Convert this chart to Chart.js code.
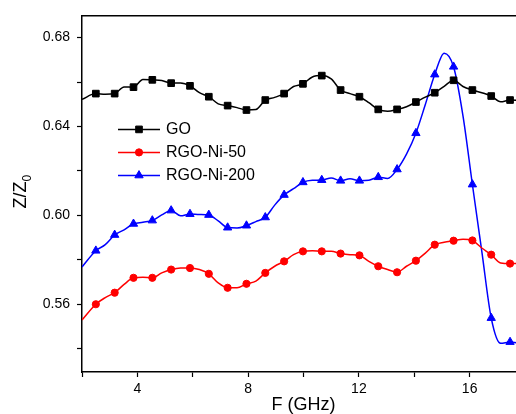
<!DOCTYPE html>
<html>
<head>
<meta charset="utf-8">
<script src="https://cdn.jsdelivr.net/npm/chart.js@4.4.1/dist/chart.umd.min.js"></script>
<style>
  html, body { margin: 0; padding: 0; background: #fff; overflow: hidden; }
  #wrap { width: 516px; height: 414px; overflow: hidden; }
</style>
</head>
<body>
<div id="wrap"><canvas id="zChart" width="530" height="414"></canvas></div>
<script>
// Frequency samples in GHz; odd entries are the ones that carry a marker
const freq = [2.00, 2.50, 2.84, 3.18, 3.52, 3.86, 4.20, 4.54, 4.88, 5.22, 5.56, 5.90, 6.24, 6.58, 6.92, 7.26,
  7.60, 7.94, 8.28, 8.62, 8.96, 9.30, 9.64, 9.98, 10.32, 10.66, 11.00, 11.34, 11.68, 12.02, 12.36, 12.70,
  13.04, 13.38, 13.72, 14.06, 14.40, 14.74, 15.08, 15.42, 15.76, 16.10, 16.44, 16.78, 17.12, 17.46, 17.80];

const goVals = [0.6522, 0.6548, 0.6545, 0.6548, 0.6578, 0.6577, 0.6612, 0.6610, 0.6607, 0.6595, 0.6596, 0.6583,
  0.6552, 0.6534, 0.6502, 0.6494, 0.6485, 0.6474, 0.6476, 0.6519, 0.6531, 0.6548, 0.6580, 0.6592, 0.6623,
  0.6629, 0.6614, 0.6564, 0.6548, 0.6534, 0.6507, 0.6477, 0.6469, 0.6477, 0.6489, 0.6510, 0.6532, 0.6552,
  0.6581, 0.6608, 0.6580, 0.6564, 0.6552, 0.6537, 0.6511, 0.6519, 0.6517];

const ni50Vals = [0.5529, 0.5600, 0.5630, 0.5652, 0.5689, 0.5719, 0.5722, 0.5719, 0.5741, 0.5756, 0.5763, 0.5763,
  0.5756, 0.5737, 0.5696, 0.5674, 0.5674, 0.5692, 0.5704, 0.5741, 0.5771, 0.5793, 0.5823, 0.5838, 0.5841,
  0.5838, 0.5838, 0.5828, 0.5823, 0.5820, 0.5793, 0.5771, 0.5756, 0.5744, 0.5771, 0.5796, 0.5830, 0.5868,
  0.5879, 0.5886, 0.5893, 0.5887, 0.5853, 0.5823, 0.5786, 0.5783, 0.5783];

const ni200Vals = [0.5768, 0.5841, 0.5868, 0.5912, 0.5935, 0.5962, 0.5969, 0.5977, 0.6002, 0.6022, 0.5998, 0.6006,
  0.6004, 0.6002, 0.5975, 0.5945, 0.5943, 0.5954, 0.5972, 0.5991, 0.6046, 0.6092, 0.6120, 0.6149, 0.6158,
  0.6159, 0.6168, 0.6156, 0.6165, 0.6156, 0.6158, 0.6172, 0.6166, 0.6207, 0.6276, 0.6370, 0.6499, 0.6634,
  0.6730, 0.6669, 0.6448, 0.6139, 0.5838, 0.5538, 0.5424, 0.5430, 0.5424];

const seriesNames = ['GO', 'RGO-Ni-50', 'RGO-Ni-200'];

const xTicks = [2, 4, 6, 8, 10, 12, 14, 16, 18];
const xLabels = [4, 8, 12, 16];
const yTicks = [0.54, 0.56, 0.58, 0.60, 0.62, 0.64, 0.66, 0.68];
const yLabels = [0.56, 0.60, 0.64, 0.68];

const FONT = '"Liberation Sans", Arial, sans-serif';
Chart.defaults.font.family = FONT;
Chart.defaults.color = '#000';

function toPoints(vals) {
    return freq.map((f, i) => ({ x: f, y: vals[i] }));
}

function makeSeries(label, vals, color, style, radius) {
    return {
        label: label,
        data: toPoints(vals),
        borderColor: color,
        backgroundColor: color,
        borderWidth: 1.5,
        cubicInterpolationMode: 'monotone',
        pointStyle: style,
        pointRadius: c => (c.index % 2 === 1 ? radius : 0),
        pointHoverRadius: c => (c.index % 2 === 1 ? radius : 0),
        pointBackgroundColor: color,
        pointBorderColor: color,
        pointBorderWidth: 1,
        markerRadius: radius
    };
}

const isMajor = (list, v) => list.some(l => Math.abs(l - v) < 1e-6);

// Axis title with subscript and an in-plot legend (line + marker + name)
const plotExtras = {
    id: 'plotExtras',
    afterDraw(chart) {
        const { ctx, chartArea } = chart;

        ctx.save();
        ctx.translate(21, (chartArea.top + chartArea.bottom) / 2 - 2);
        ctx.rotate(-Math.PI / 2);
        ctx.fillStyle = '#000';
        ctx.textBaseline = 'middle';
        ctx.textAlign = 'left';
        ctx.font = '18px ' + FONT;
        const mainW = ctx.measureText('Z/Z').width;
        ctx.font = '12px ' + FONT;
        const subW = ctx.measureText('0').width;
        const start = -(mainW + subW) / 2;
        ctx.font = '18px ' + FONT;
        ctx.fillText('Z/Z', start, 0);
        ctx.font = '12px ' + FONT;
        ctx.fillText('0', start + mainW, 7);
        ctx.restore();

        ctx.save();
        chart.data.datasets.forEach((ds, i) => {
            const y = chartArea.top + 114 + i * 23;
            const x0 = chartArea.left + 36;
            ctx.strokeStyle = ds.borderColor;
            ctx.fillStyle = ds.borderColor;
            ctx.lineWidth = 1.5;
            ctx.beginPath();
            ctx.moveTo(x0, y);
            ctx.lineTo(x0 + 42, y);
            ctx.stroke();
            ctx.lineWidth = 1;
            Chart.helpers.drawPoint(ctx, { pointStyle: ds.pointStyle, radius: ds.markerRadius, rotation: 0, borderWidth: 1 }, x0 + 21, y);
            ctx.fillStyle = '#000';
            ctx.font = '16px ' + FONT;
            ctx.textBaseline = 'middle';
            ctx.textAlign = 'left';
            ctx.fillText(ds.label, x0 + 48, y);
        });
        ctx.restore();
    }
};

new Chart(document.getElementById('zChart'), {
    type: 'line',
    data: {
        datasets: [
            makeSeries(seriesNames[0], goVals, '#000000', 'rect', 4.7),
            makeSeries(seriesNames[1], ni50Vals, '#ff0000', 'circle', 3.6),
            makeSeries(seriesNames[2], ni200Vals, '#0000ff', 'triangle', 4.8)
        ]
    },
    options: {
        responsive: false,
        animation: false,
        layout: { padding: { left: 0, top: 12, right: 5, bottom: 0 } },
        plugins: { legend: { display: false }, tooltip: { enabled: false } },
        scales: {
            x: {
                type: 'linear',
                min: 2,
                max: 18,
                afterBuildTicks: s => { s.ticks = xTicks.map(v => ({ value: v })); },
                afterFit: s => { s.height = 42; },
                grid: { display: true, drawOnChartArea: false, tickLength: 5, color: '#000', tickColor: '#000', tickWidth: 1.2 },
                border: { display: true, color: '#000', width: 1.5 },
                ticks: {
                    padding: 4,
                    color: '#000',
                    font: { size: 14 },
                    maxRotation: 0,
                    autoSkip: false,
                    callback: v => (isMajor(xLabels, v) ? String(v) : '')
                },
                title: { display: true, text: 'F (GHz)', color: '#000', font: { size: 18, lineHeight: 1.0 }, padding: 0 }
            },
            x2: {
                type: 'linear',
                position: 'top',
                min: 2,
                max: 18,
                afterFit: s => { s.height = 0; },
                grid: { display: false, drawTicks: false },
                border: { display: true, color: '#000', width: 1.5 },
                ticks: { display: false }
            },
            y: {
                type: 'linear',
                min: 0.5295,
                max: 0.69,
                afterBuildTicks: s => { s.ticks = yTicks.map(v => ({ value: v })); },
                afterFit: s => { s.width = 82; },
                grid: { display: true, drawOnChartArea: false, tickLength: 5, color: '#000', tickColor: '#000', tickWidth: 1.2 },
                border: { display: true, color: '#000', width: 1.5 },
                ticks: {
                    padding: 7,
                    color: '#000',
                    font: { size: 14 },
                    autoSkip: false,
                    callback: v => (isMajor(yLabels, v) ? v.toFixed(2) : '')
                }
            }
        }
    },
    plugins: [plotExtras]
});
</script>
</body>
</html>
